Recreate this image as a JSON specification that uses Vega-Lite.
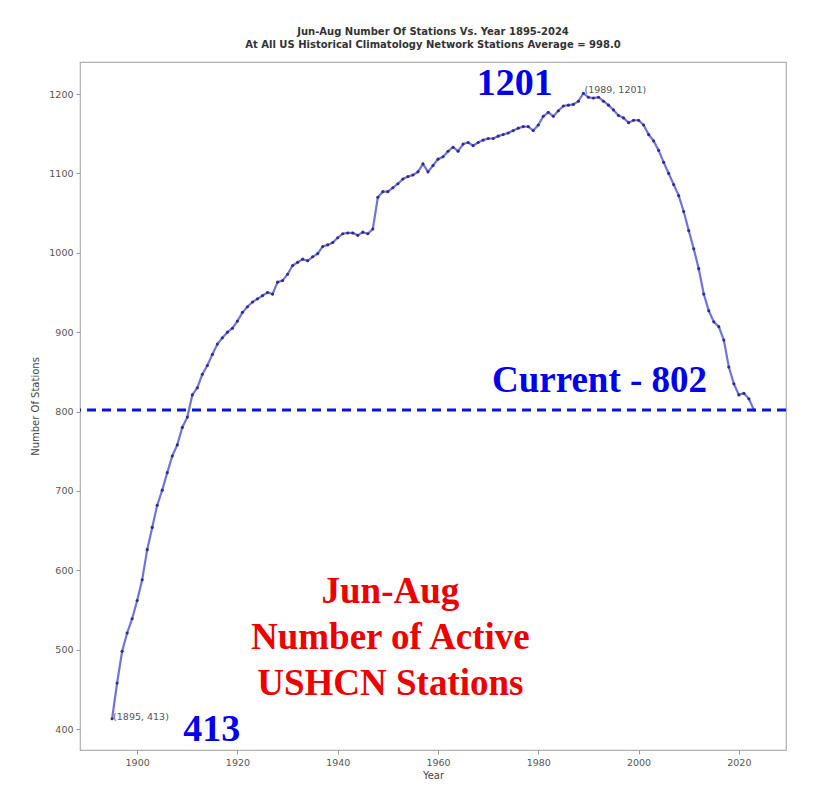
{
  "$schema": "https://vega.github.io/schema/vega-lite/v6.json",
  "width": 706,
  "height": 688,
  "autosize": {"type": "none"},
  "padding": {"left": 80, "top": 62, "right": 27, "bottom": 43},
  "background": "#ffffff",
  "config": {
    "view": {"stroke": "#b0b0b0", "strokeWidth": 1.2},
    "font": "DejaVu Sans",
    "axis": {
      "grid": false, "domain": false, "labelFont": "DejaVu Sans", "labelFontSize": 9.5, "labelColor": "#555555",
      "tickColor": "#999999", "tickSize": 4, "labelPadding": 3, "titleFont": "DejaVu Sans", "titleFontSize": 10,
      "titleFontWeight": "normal", "titleColor": "#444444"
    }
  },
  "title": {
    "text": ["Jun-Aug Number Of Stations Vs. Year 1895-2024", "At All US Historical Climatology Network Stations Average = 998.0"],
    "fontSize": 10, "fontWeight": "bold", "font": "DejaVu Sans", "color": "#333333", "anchor": "middle", "offset": 12, "lineHeight": 13
  },
  "datasets": {
    "stations": [
    {"Year":1895,"Stations":413},{"Year":1896,"Stations":458},{"Year":1897,"Stations":498},{"Year":1898,"Stations":521},
    {"Year":1899,"Stations":539},{"Year":1900,"Stations":562},{"Year":1901,"Stations":588},{"Year":1902,"Stations":626},
    {"Year":1903,"Stations":654},{"Year":1904,"Stations":682},{"Year":1905,"Stations":701},{"Year":1906,"Stations":723},
    {"Year":1907,"Stations":744},{"Year":1908,"Stations":758},{"Year":1909,"Stations":780},{"Year":1910,"Stations":793},
    {"Year":1911,"Stations":821},{"Year":1912,"Stations":830},{"Year":1913,"Stations":847},{"Year":1914,"Stations":858},
    {"Year":1915,"Stations":872},{"Year":1916,"Stations":885},{"Year":1917,"Stations":893},{"Year":1918,"Stations":900},
    {"Year":1919,"Stations":905},{"Year":1920,"Stations":914},{"Year":1921,"Stations":925},{"Year":1922,"Stations":932},
    {"Year":1923,"Stations":938},{"Year":1924,"Stations":942},{"Year":1925,"Stations":946},{"Year":1926,"Stations":950},
    {"Year":1927,"Stations":948},{"Year":1928,"Stations":963},{"Year":1929,"Stations":965},{"Year":1930,"Stations":973},
    {"Year":1931,"Stations":984},{"Year":1932,"Stations":988},{"Year":1933,"Stations":992},{"Year":1934,"Stations":990},
    {"Year":1935,"Stations":995},{"Year":1936,"Stations":999},{"Year":1937,"Stations":1008},{"Year":1938,"Stations":1010},
    {"Year":1939,"Stations":1013},{"Year":1940,"Stations":1019},{"Year":1941,"Stations":1024},{"Year":1942,"Stations":1025},
    {"Year":1943,"Stations":1025},{"Year":1944,"Stations":1022},{"Year":1945,"Stations":1026},{"Year":1946,"Stations":1024},
    {"Year":1947,"Stations":1030},{"Year":1948,"Stations":1070},{"Year":1949,"Stations":1077},{"Year":1950,"Stations":1077},
    {"Year":1951,"Stations":1082},{"Year":1952,"Stations":1087},{"Year":1953,"Stations":1093},{"Year":1954,"Stations":1096},
    {"Year":1955,"Stations":1098},{"Year":1956,"Stations":1102},{"Year":1957,"Stations":1112},{"Year":1958,"Stations":1102},
    {"Year":1959,"Stations":1110},{"Year":1960,"Stations":1118},{"Year":1961,"Stations":1121},{"Year":1962,"Stations":1128},
    {"Year":1963,"Stations":1133},{"Year":1964,"Stations":1128},{"Year":1965,"Stations":1137},{"Year":1966,"Stations":1139},
    {"Year":1967,"Stations":1135},{"Year":1968,"Stations":1139},{"Year":1969,"Stations":1142},{"Year":1970,"Stations":1144},
    {"Year":1971,"Stations":1144},{"Year":1972,"Stations":1147},{"Year":1973,"Stations":1149},{"Year":1974,"Stations":1151},
    {"Year":1975,"Stations":1154},{"Year":1976,"Stations":1157},{"Year":1977,"Stations":1159},{"Year":1978,"Stations":1159},
    {"Year":1979,"Stations":1154},{"Year":1980,"Stations":1161},{"Year":1981,"Stations":1172},{"Year":1982,"Stations":1177},
    {"Year":1983,"Stations":1172},{"Year":1984,"Stations":1179},{"Year":1985,"Stations":1185},{"Year":1986,"Stations":1186},
    {"Year":1987,"Stations":1187},{"Year":1988,"Stations":1191},{"Year":1989,"Stations":1201},{"Year":1990,"Stations":1196},
    {"Year":1991,"Stations":1195},{"Year":1992,"Stations":1196},{"Year":1993,"Stations":1191},{"Year":1994,"Stations":1186},
    {"Year":1995,"Stations":1180},{"Year":1996,"Stations":1173},{"Year":1997,"Stations":1170},{"Year":1998,"Stations":1164},
    {"Year":1999,"Stations":1167},{"Year":2000,"Stations":1167},{"Year":2001,"Stations":1161},{"Year":2002,"Stations":1149},
    {"Year":2003,"Stations":1141},{"Year":2004,"Stations":1129},{"Year":2005,"Stations":1114},{"Year":2006,"Stations":1100},
    {"Year":2007,"Stations":1086},{"Year":2008,"Stations":1072},{"Year":2009,"Stations":1052},{"Year":2010,"Stations":1028},
    {"Year":2011,"Stations":1005},{"Year":2012,"Stations":980},{"Year":2013,"Stations":948},{"Year":2014,"Stations":927},
    {"Year":2015,"Stations":913},{"Year":2016,"Stations":907},{"Year":2017,"Stations":890},{"Year":2018,"Stations":856},
    {"Year":2019,"Stations":835},{"Year":2020,"Stations":821},{"Year":2021,"Stations":823},{"Year":2022,"Stations":816},
    {"Year":2023,"Stations":802}
    ]
  },
  "layer": [
    {
      "data": {"name": "stations"},
      "mark": {"type": "line", "color": "#5a5ad0", "strokeWidth": 2.2, "opacity": 0.85},
      "encoding": {
        "x": {"field": "Year", "type": "quantitative", "scale": {"domain": [1888.6, 2029.4], "nice": false, "zero": false},
          "axis": {"title": "Year", "values": [1900, 1920, 1940, 1960, 1980, 2000, 2020], "format": "d", "titlePadding": 4}},
        "y": {"field": "Stations", "type": "quantitative", "scale": {"domain": [373.6, 1240.4], "nice": false, "zero": false},
          "axis": {"title": "Number Of Stations", "values": [400, 500, 600, 700, 800, 900, 1000, 1100, 1200], "format": "d", "titlePadding": 8}}
      }
    },
    {
      "data": {"name": "stations"},
      "mark": {"type": "point", "filled": true, "size": 10, "color": "#23238c", "opacity": 0.9},
      "encoding": {
        "x": {"field": "Year", "type": "quantitative"},
        "y": {"field": "Stations", "type": "quantitative"}
      }
    },
    {
      "data": {"values": [{"Current": 802}]},
      "mark": {"type": "rule", "color": "#0a14e6", "strokeWidth": 3, "strokeDash": [9, 6]},
      "encoding": {"y": {"field": "Current", "type": "quantitative"}}
    },
    {
      "data": {"values": [{"label": "(1895, 413)"}]},
      "mark": {"type": "text", "align": "left", "baseline": "alphabetic", "dx": 1, "dy": 1, "fontSize": 9.5, "font": "DejaVu Sans", "color": "#555555"},
      "encoding": {"x": {"datum": 1895, "type": "quantitative"}, "y": {"datum": 413, "type": "quantitative"}, "text": {"field": "label", "type": "nominal"}}
    },
    {
      "data": {"values": [{"label": "(1989, 1201)"}]},
      "mark": {"type": "text", "align": "left", "baseline": "alphabetic", "dx": 1, "dy": 0, "fontSize": 9.5, "font": "DejaVu Sans", "color": "#555555"},
      "encoding": {"x": {"datum": 1989, "type": "quantitative"}, "y": {"datum": 1201, "type": "quantitative"}, "text": {"field": "label", "type": "nominal"}}
    },
    {
      "data": {"values": [{"label": "1201"}]},
      "mark": {"type": "text", "align": "center", "baseline": "alphabetic", "fontSize": 38, "fontWeight": "bold", "font": "Liberation Serif", "color": "#0000ee"},
      "encoding": {"x": {"datum": 1975.3, "type": "quantitative"}, "y": {"datum": 1198.8, "type": "quantitative"}, "text": {"field": "label", "type": "nominal"}}
    },
    {
      "data": {"values": [{"label": "413"}]},
      "mark": {"type": "text", "align": "center", "baseline": "alphabetic", "fontSize": 38, "fontWeight": "bold", "font": "Liberation Serif", "color": "#0000ee"},
      "encoding": {"x": {"datum": 1914.9, "type": "quantitative"}, "y": {"datum": 384.9, "type": "quantitative"}, "text": {"field": "label", "type": "nominal"}}
    },
    {
      "data": {"values": [{"label": "Current - 802"}]},
      "mark": {"type": "text", "align": "center", "baseline": "alphabetic", "fontSize": 37, "fontWeight": "bold", "font": "Liberation Serif", "color": "#0000ee"},
      "encoding": {"x": {"datum": 1992.2, "type": "quantitative"}, "y": {"datum": 824.6, "type": "quantitative"}, "text": {"field": "label", "type": "nominal"}}
    },
    {
      "data": {"values": [{"label": "Jun-Aug\nNumber of Active\nUSHCN Stations"}]},
      "mark": {"type": "text", "align": "center", "baseline": "alphabetic", "lineBreak": "\n", "lineHeight": 46, "fontSize": 37, "fontWeight": "bold", "font": "Liberation Serif", "color": "#ee0000"},
      "encoding": {"x": {"datum": 1950.5, "type": "quantitative"}, "y": {"datum": 558.8, "type": "quantitative"}, "text": {"field": "label", "type": "nominal"}}
    }
  ]
}
